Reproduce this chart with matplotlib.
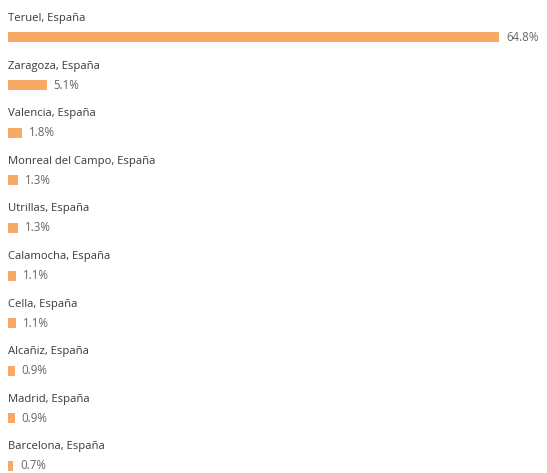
import numpy as np
import matplotlib.pyplot as plt

cities = ['Teruel, España', 'Zaragoza, España', 'Valencia, España',
          'Monreal del Campo, España', 'Utrillas, España', 'Calamocha, España',
          'Cella, España', 'Alcañiz, España', 'Madrid, España', 'Barcelona, España']
shares = [64.8, 5.1, 1.8, 1.3, 1.3, 1.1, 1.1, 0.9, 0.9, 0.7]

W, H = 547, 473
px_per_pct = (499 - 8) / 64.8
row0, row_h = 37.5, 47.6

fig = plt.figure(figsize=(W / 100, H / 100), dpi=100)
ax = fig.add_axes([0, 0, 1, 1])
ax.set_xlim(-8 / px_per_pct, (W - 8) / px_per_pct)
ax.set_ylim((H - row0) / row_h, -row0 / row_h)
ax.axis('off')

ypos = np.arange(len(cities))
ax.barh(ypos, shares, height=10 / row_h, color='#F6AA66', left=0)

for y, city, val in zip(ypos, cities, shares):
    ax.text(0, y - 19 / row_h, city, ha='left', va='center',
            fontsize=8.1, color='#3a3a3a', family='Open Sans')
    ax.text(val + 7 / px_per_pct, y, f'{val}%', ha='left', va='center',
            fontsize=8.3, color='#666666', family='Open Sans')

fig.savefig('out.png', dpi=100)
